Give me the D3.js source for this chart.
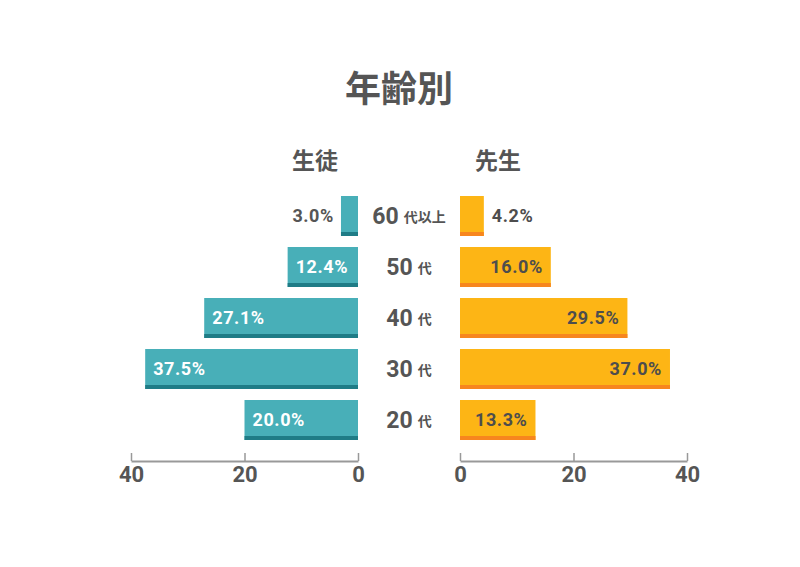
<!DOCTYPE html>
<html>
<head>
<meta charset="utf-8">
<script src="https://cdn.jsdelivr.net/npm/d3@7"></script>
<style>
  body { margin: 0; background: #fff; }
  text { font-family: Roboto, "Noto Sans CJK JP", sans-serif; }
</style>
</head>
<body>
<div id="chart"></div>
<script>
// data
const ageNums = ["60", "50", "40", "30", "20"];
const ageSuffix = ["代以上", "代", "代", "代", "代"];
const students = [3.0, 12.4, 27.1, 37.5, 20.0];
const teachers = [4.2, 16.0, 29.5, 37.0, 13.3];
const ticks = [0, 20, 40];

const width = 800,
  height = 567,
  textColor = "#555555";

const svg = d3
  .select("#chart")
  .append("svg")
  .attr("width", width)
  .attr("height", height);

// scales
const y = d3
  .scaleBand()
  .domain(ageNums)
  .range([190.5, 445.5])
  .paddingInner(11 / 51)
  .paddingOuter(5.5 / 51);

const xLeft = d3.scaleLinear().domain([0, 40]).range([358, 131]);
const xRight = d3.scaleLinear().domain([0, 40]).range([460, 687]);

const rows = ageNums.map((a, i) => ({
  age: a,
  suffix: ageSuffix[i],
  s: students[i],
  t: teachers[i]
}));

// title + headers
svg
  .append("text")
  .attr("x", 399)
  .attr("y", 86)
  .attr("text-anchor", "middle")
  .attr("dominant-baseline", "central")
  .style("font-family", "'Noto Sans CJK JP'")
  .style("font-size", "36px")
  .style("font-weight", "bold")
  .style("fill", textColor)
  .text("年齢別");

const header = (x, label) =>
  svg
    .append("text")
    .attr("x", x)
    .attr("y", 159)
    .attr("text-anchor", "middle")
    .attr("dominant-baseline", "central")
    .style("font-family", "'Noto Sans CJK JP'")
    .style("font-size", "23px")
    .style("font-weight", "bold")
    .style("fill", textColor)
    .text(label);
header(315, "生徒");
header(498, "先生");

// bars with dark bottom strip
const drawBars = (cls, value, x0, xEnd, fill, strip) => {
  const g = svg.append("g").attr("class", cls).selectAll("g").data(rows).enter().append("g");
  g.append("rect")
    .attr("x", d => Math.min(x0, xEnd(value(d))))
    .attr("y", d => y(d.age))
    .attr("width", d => Math.abs(xEnd(value(d)) - x0))
    .attr("height", y.bandwidth())
    .attr("fill", fill);
  g.append("rect")
    .attr("x", d => Math.min(x0, xEnd(value(d))))
    .attr("y", d => y(d.age) + y.bandwidth() - 4)
    .attr("width", d => Math.abs(xEnd(value(d)) - x0))
    .attr("height", 4)
    .attr("fill", strip);
  return g;
};

const left = drawBars("students", d => d.s, xLeft(0), xLeft, "#48AFB8", "#1F7C86");
const right = drawBars("teachers", d => d.t, xRight(0), xRight, "#FDB515", "#F7861E");

const labelStyle = sel =>
  sel
    .attr("dominant-baseline", "central")
    .style("font-size", "18px")
    .style("letter-spacing", "0.6px")
    .style("font-weight", "bold");

left
  .append("text")
  .call(labelStyle)
  .attr("x", d => (d.s < 8 ? xLeft(d.s) - 7 : xLeft(d.s) + 8))
  .attr("y", d => y(d.age) + y.bandwidth() / 2 - 1)
  .attr("text-anchor", d => (d.s < 8 ? "end" : "start"))
  .style("fill", d => (d.s < 8 ? textColor : "#fff"))
  .text(d => d.s.toFixed(1) + "%");

right
  .append("text")
  .call(labelStyle)
  .attr("x", d => (d.t < 8 ? xRight(d.t) + 8 : xRight(d.t) - 8))
  .attr("y", d => y(d.age) + y.bandwidth() / 2 - 1)
  .attr("text-anchor", d => (d.t < 8 ? "start" : "end"))
  .style("fill", "#4d4d4d")
  .text(d => d.t.toFixed(1) + "%");

// category labels in the middle
const cat = svg
  .append("g")
  .selectAll("text")
  .data(rows)
  .enter()
  .append("text")
  .attr("x", 409)
  .attr("y", d => y(d.age) + y.bandwidth() / 2)
  .attr("text-anchor", "middle")
  .attr("dominant-baseline", "central")
  .style("fill", textColor)
  .style("font-weight", "bold");
cat
  .append("tspan")
  .style("font-size", "23px")
  .text(d => d.age);
cat
  .append("tspan")
  .attr("dx", 5)
  .style("font-family", "'Noto Sans CJK JP'")
  .style("font-size", "14px")
  .text(d => d.suffix);

// axes
const drawAxis = scale => {
  const g = svg
    .append("g")
    .attr("transform", "translate(0,461)")
    .call(
      d3
        .axisBottom(scale)
        .tickValues(ticks)
        .tickSizeInner(-8)
        .tickSizeOuter(0)
        .tickPadding(5)
    );
  g.select(".domain").attr("stroke", "#999").attr("stroke-width", 2);
  g.selectAll(".tick line").attr("stroke", "#999").attr("stroke-width", 1.5);
  g.selectAll(".tick text")
    .style("font-family", "Roboto")
    .style("font-size", "22px")
    .style("font-weight", "bold")
    .style("fill", textColor);
};
drawAxis(xLeft);
drawAxis(xRight);
</script>
</body>
</html>
